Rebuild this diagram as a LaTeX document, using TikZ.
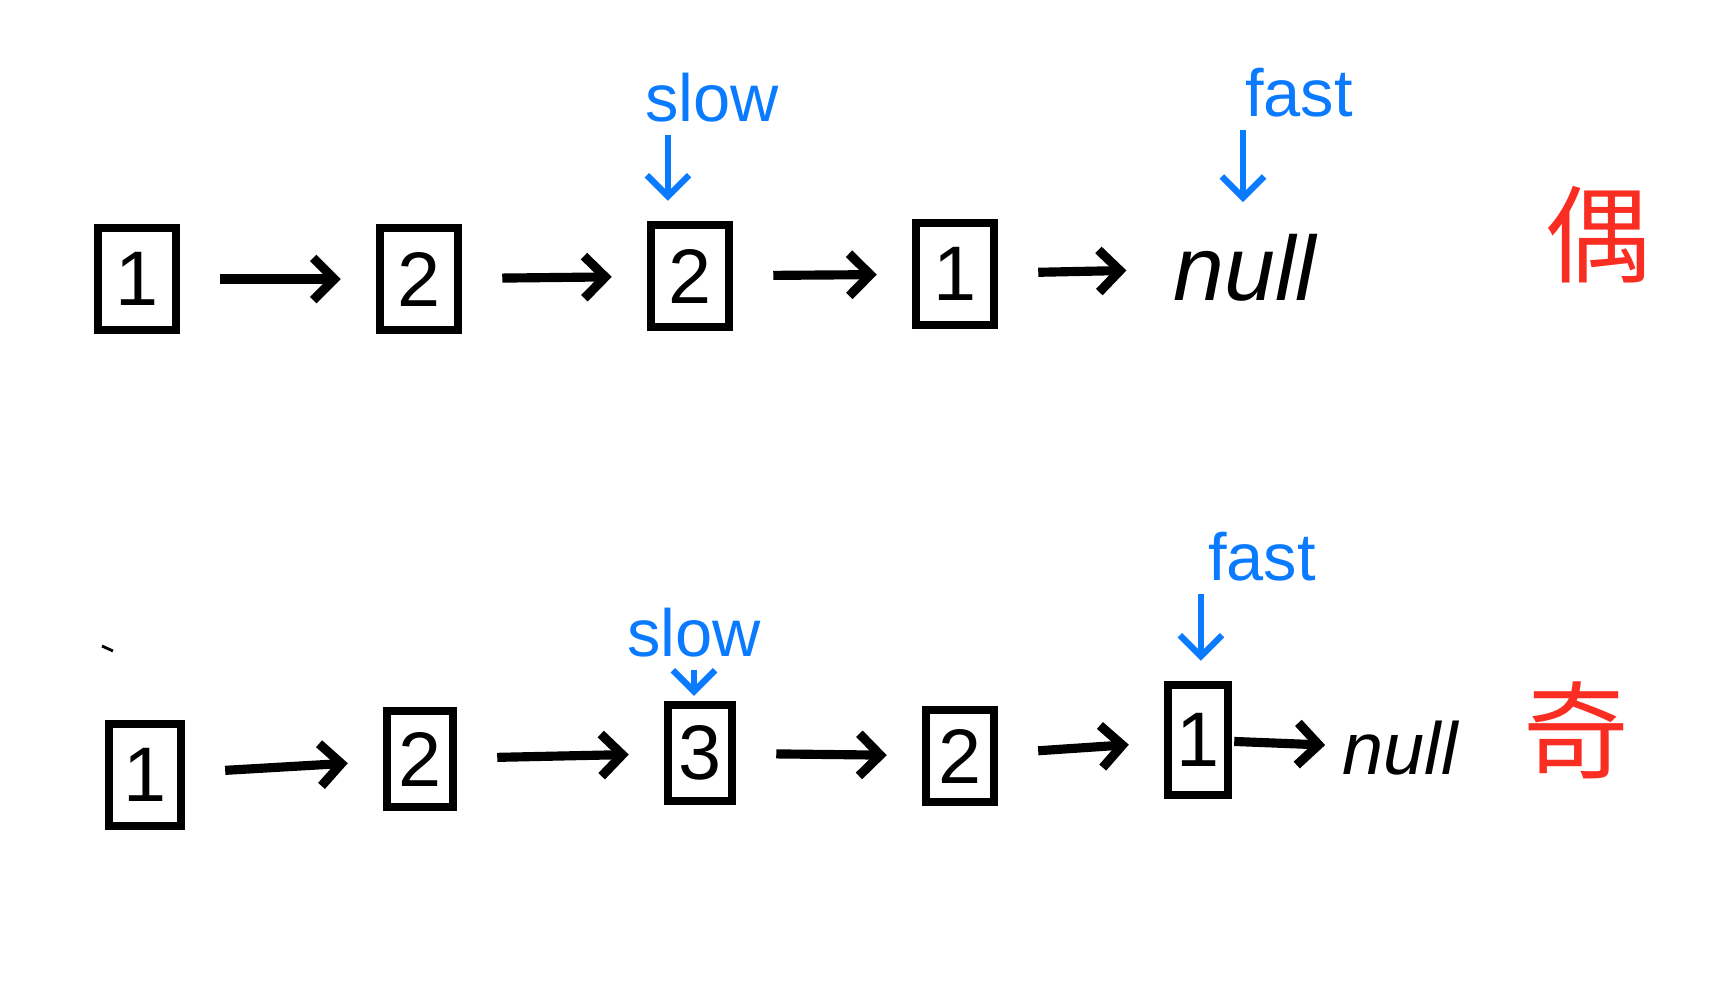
\documentclass[tikz,border=0pt]{standalone}
\usepackage{fontspec}
\setmainfont{Liberation Sans}
\newfontfamily\cjk{Noto Sans CJK SC}
\usetikzlibrary{arrows.meta}
\definecolor{ptrblue}{RGB}{10,122,255}
\definecolor{markred}{RGB}{250,45,35}
\begin{document}
\begin{tikzpicture}[x=0.01cm,y=-0.01cm,>={Straight Barb[length=6pt,width=12pt]},
  box/.style={draw,line width=2.4pt,minimum width=0.78cm,minimum height=1.02cm,inner sep=0pt,font=\fontsize{22}{26}\selectfont},
  nulltext/.style={font=\itshape\fontsize{26}{30}\selectfont},
  link/.style={->,line width=2.6pt,shorten <=0.4cm,shorten >=0.35cm},
  ptr/.style={->,line width=1.8pt,ptrblue,shorten >=0.2cm},
  ptrtext/.style={text=ptrblue,font=\fontsize{19}{23}\selectfont},
  cnmark/.style={text=markred,font=\cjk\fontsize{30}{34}\selectfont}]
\useasboundingbox (0,0) rectangle (1712,999);
% even list
\node[box] (t1) at (137,279) {1};
\node[box] (t2) at (419,279) {2};
\node[box] (t3) at (690,276) {2};
\node[box] (t4) at (955,274) {1};
\node[nulltext] (tnull) at (1245,268) {null};
\draw[link] (t1)--(t2);
\draw[link] (t2)--(t3);
\draw[link] (t3)--(t4);
\draw[link] (t4)--(tnull);
\node[ptrtext] (tslow) at (712,98) {slow};
\node[ptrtext] (tfast) at (1299,93) {fast};
\draw[ptr] ([xshift=-0.44cm]tslow.south)--([xshift=-0.44cm]tslow.south |- t3.north);
\draw[ptr] ([xshift=-0.56cm]tfast.south)--([xshift=-0.56cm]tfast.south |- tnull.north);
\node[cnmark] (even) at (1598,235) {偶};
% odd list
\draw[line width=0.8pt] (102,646)--(113,651);
\node[box,minimum width=0.72cm] (b1) at (145,775) {1};
\node[box,minimum width=0.66cm,minimum height=0.96cm] (b2) at (420,759) {2};
\node[box,minimum width=0.64cm,minimum height=0.96cm] (b3) at (700,753) {3};
\node[box,minimum width=0.68cm,minimum height=0.92cm] (b4) at (960,756) {2};
\node[box,minimum width=0.6cm,minimum height=1.1cm] (b5) at (1198,740) {1};
\node[nulltext,font=\itshape\fontsize{21}{25}\selectfont] (bnull) at (1400,748) {null};
\draw[link] (b1)--(b2);
\draw[link] (b2)--(b3);
\draw[link] (b3)--(b4);
\draw[link] (b4)--(b5);
\draw[link,shorten <=0.02cm,shorten >=0.05cm] (b5)--(bnull);
\node[ptrtext] (bslow) at (694,633) {slow};
\node[ptrtext] (bfast) at (1262,557) {fast};
\draw[ptr,shorten >=0.05cm] (bslow.south)--(bslow.south |- b3.north);
\draw[ptr] ([xshift=-0.61cm]bfast.south)--([xshift=-0.61cm]bfast.south |- b5.north);
\node[cnmark] (odd) at (1576,730) {奇};
\end{tikzpicture}
\end{document}
